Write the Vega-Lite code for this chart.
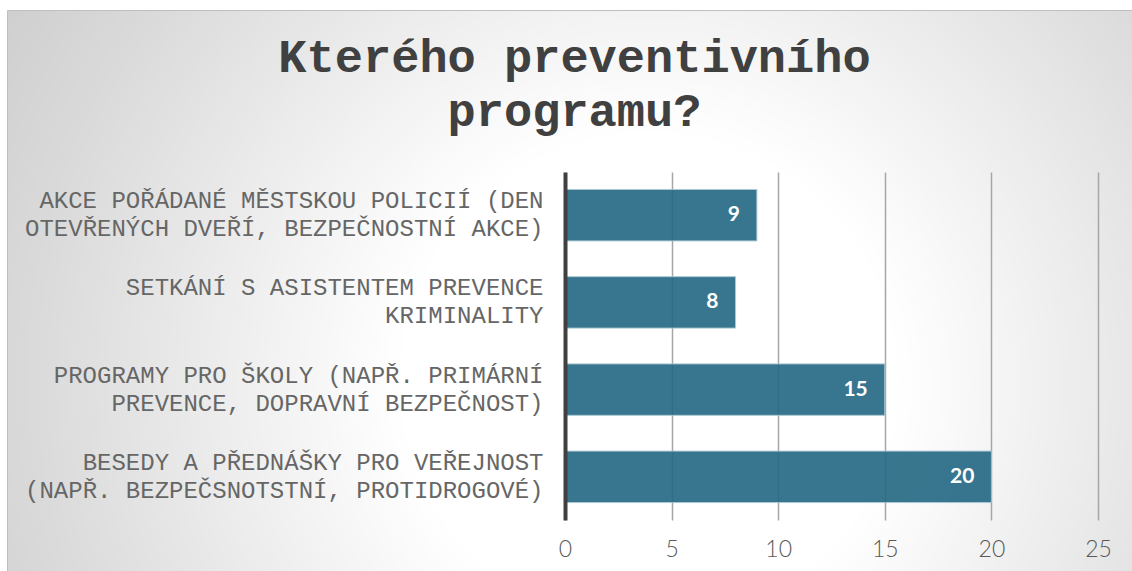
{
  "$schema": "https://vega.github.io/schema/vega-lite/v6.json",
  "width": 1125,
  "height": 561,
  "autosize": {"type": "none"},
  "padding": {"left": 7, "top": 10, "right": 0, "bottom": 0},
  "background": "white",
  "view": {
    "fill": {
      "gradient": "radial",
      "x1": 0.57, "y1": 0.58, "r1": 0,
      "x2": 0.57, "y2": 0.58, "r2": 0.78,
      "stops": [
        {"offset": 0, "color": "#ffffff"},
        {"offset": 0.28, "color": "#ffffff"},
        {"offset": 0.7, "color": "#dadada"},
        {"offset": 1, "color": "#c3c3c3"}
      ]
    },
    "stroke": "#bfbfbf",
    "strokeWidth": 1
  },
  "title": {
    "text": ["Kterého preventivního", "programu?"],
    "font": "Liberation Mono",
    "fontWeight": "bold",
    "fontSize": 47,
    "color": "#404040",
    "anchor": "middle",
    "frame": "group",
    "offset": -126,
    "lineHeight": 54,
    "dx": 5
  },
  "data": {
    "values": [
      {"kategorie": "AKCE POŘÁDANÉ MĚSTSKOU POLICIÍ (DEN\nOTEVŘENÝCH DVEŘÍ, BEZPEČNOSTNÍ AKCE)", "pocet": 9},
      {"kategorie": "SETKÁNÍ S ASISTENTEM PREVENCE\nKRIMINALITY", "pocet": 8},
      {"kategorie": "PROGRAMY PRO ŠKOLY (NAPŘ. PRIMÁRNÍ\nPREVENCE, DOPRAVNÍ BEZPEČNOST)", "pocet": 15},
      {"kategorie": "BESEDY A PŘEDNÁŠKY PRO VEŘEJNOST\n(NAPŘ. BEZPEČSNOTSTNÍ, PROTIDROGOVÉ)", "pocet": 20}
    ]
  },
  "encoding": {
    "y": {
      "field": "kategorie",
      "type": "nominal",
      "sort": null,
      "scale": {"range": [162, 510], "paddingInner": 0.41, "paddingOuter": 0.2},
      "axis": {
        "title": null,
        "orient": "left",
        "offset": -558,
        "domain": true,
        "domainColor": "#404040",
        "domainWidth": 4,
        "ticks": false,
        "grid": false,
        "labelFont": "Liberation Mono",
        "labelFontSize": 24,
        "labelColor": "#666666",
        "labelPadding": 22,
        "labelLineHeight": 28,
        "labelOffset": -14,
        "labelLimit": 700,
        "labelExpr": "[pad(split(datum.label,'\\n')[0], max(length(split(datum.label,'\\n')[0]), length(split(datum.label,'\\n')[1])), '\u00a0', 'center'), pad(split(datum.label,'\\n')[1], max(length(split(datum.label,'\\n')[0]), length(split(datum.label,'\\n')[1])), '\u00a0', 'center')]",
        "zindex": 1
      }
    },
    "x": {
      "field": "pocet",
      "type": "quantitative",
      "scale": {"domain": [0, 25], "range": [558, 1091], "nice": false},
      "axis": {
        "title": null,
        "orient": "bottom",
        "offset": -51,
        "values": [0, 5, 10, 15, 20, 25],
        "domain": false,
        "grid": false,
        "ticks": true,
        "tickSize": -348,
        "tickColor": "#a6a6a6",
        "tickWidth": 1.5,
        "labelFont": "Lato",
        "labelFontWeight": 300,
        "labelFontSize": 23,
        "labelColor": "#595959",
        "labelPadding": 366,
        "labelFlush": false,
        "labelOverlap": false,
        "labelBaseline": "top",
        "zindex": 0
      }
    }
  },
  "layer": [
    {
      "mark": {"type": "bar", "color": "#236883", "opacity": 0.9, "stroke": "#a3c3d1", "strokeWidth": 1}
    },
    {
      "mark": {"type": "text", "align": "right", "dx": -17, "baseline": "middle", "font": "Lato", "fontWeight": "bold", "fontSize": 21, "color": "white"},
      "encoding": {"text": {"field": "pocet", "type": "quantitative"}}
    }
  ]
}
